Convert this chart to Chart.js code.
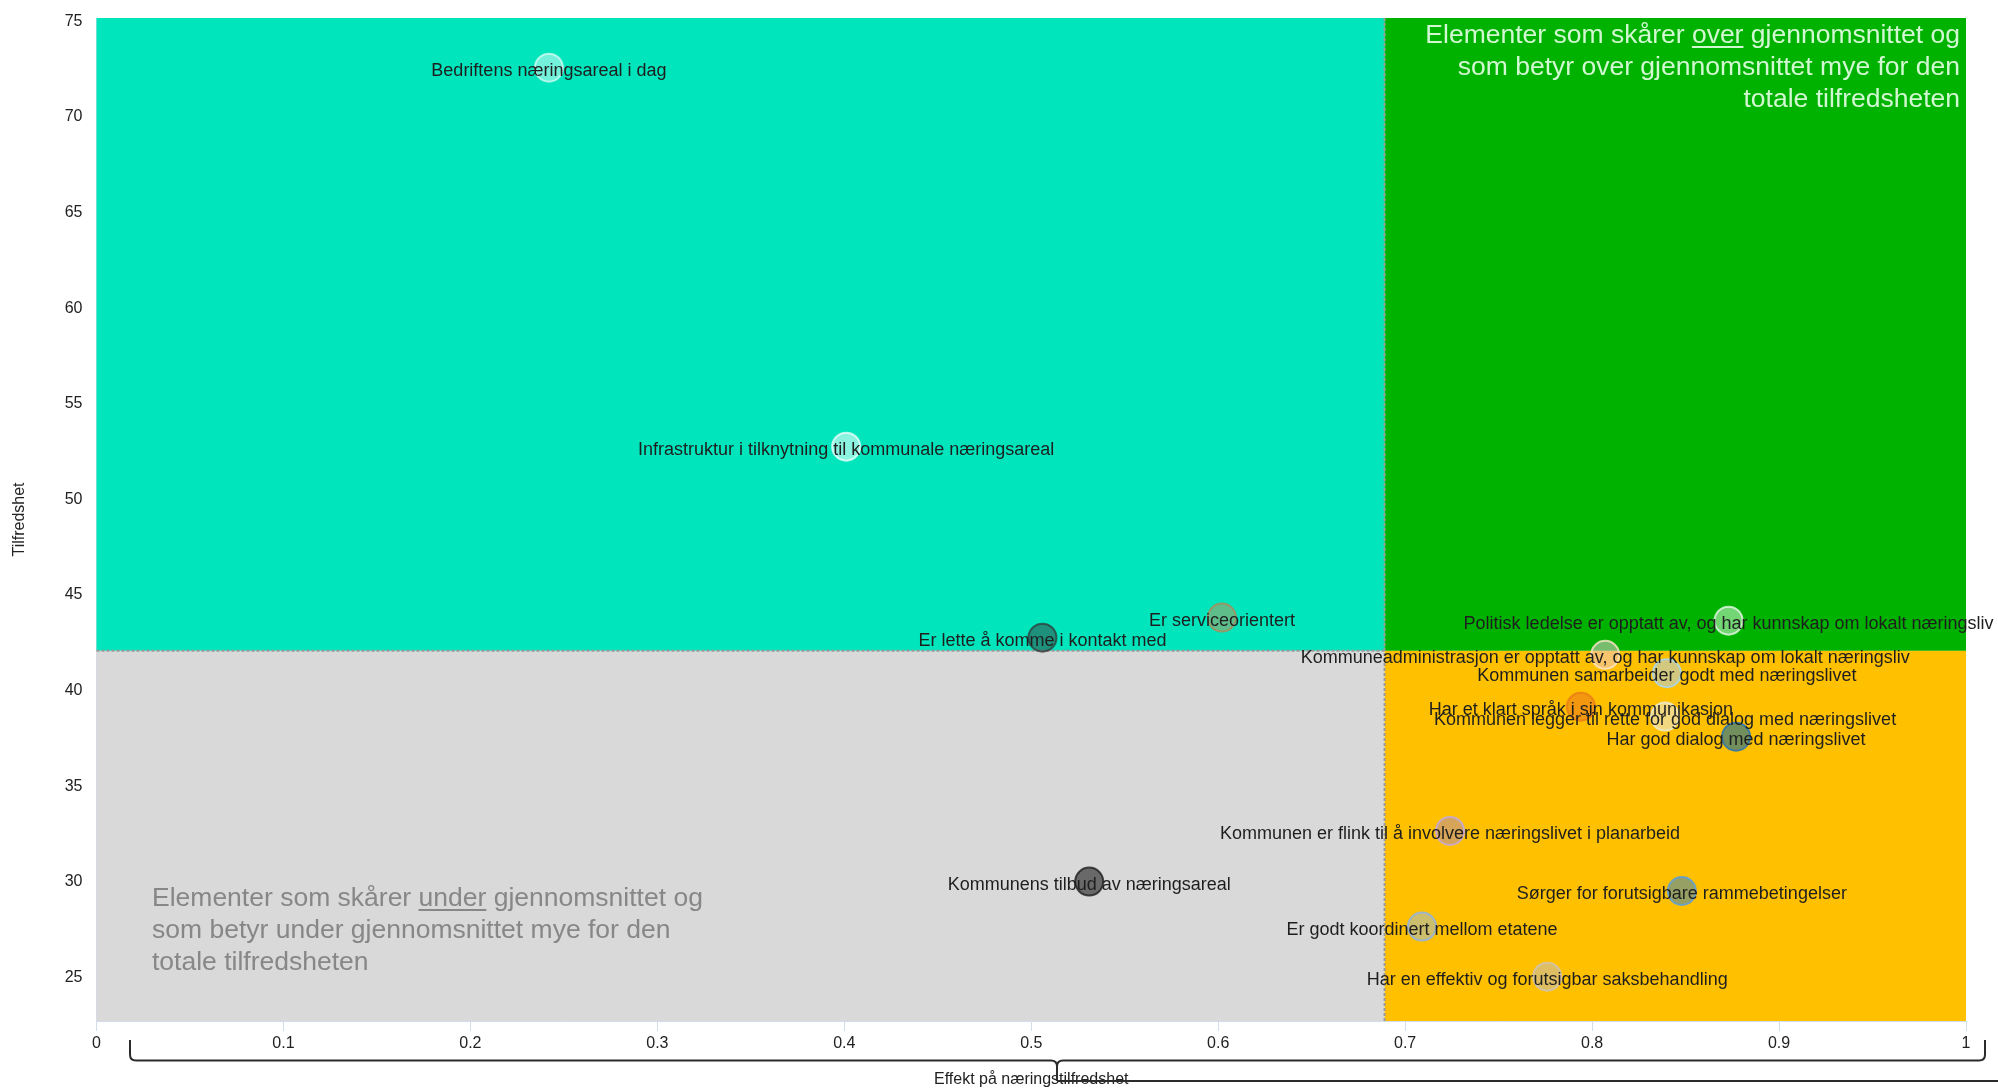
<!DOCTYPE html>
<html lang="no">
<head>
<meta charset="utf-8">
<title>Tilfredshet og effekt</title>
<script src="https://cdn.jsdelivr.net/npm/chart.js@4.4.1/dist/chart.umd.min.js"></script>
<style>
  body { margin: 0; background: #fff; }
  #wrap { width: 1998px; height: 1090px; position: relative; }
</style>
</head>
<body>
<div id="wrap"><canvas id="kvadrant"></canvas></div>
<script>
const elementer = [
    'Bedriftens næringsareal i dag',
    'Infrastruktur i tilknytning til kommunale næringsareal',
    'Er serviceorientert',
    'Er lette å komme i kontakt med',
    'Kommunens tilbud av næringsareal',
    'Politisk ledelse er opptatt av, og har kunnskap om lokalt næringsliv',
    'Kommuneadministrasjon er opptatt av, og har kunnskap om lokalt næringsliv',
    'Kommunen samarbeider godt med næringslivet',
    'Har et klart språk i sin kommunikasjon',
    'Kommunen legger til rette for god dialog med næringslivet',
    'Har god dialog med næringslivet',
    'Kommunen er flink til å involvere næringslivet i planarbeid',
    'Sørger for forutsigbare rammebetingelser',
    'Er godt koordinert mellom etatene',
    'Har en effektiv og forutsigbar saksbehandling'
];
const effekt = [0.242, 0.401, 0.602, 0.506, 0.531, 0.873, 0.807, 0.840, 0.794, 0.839, 0.877, 0.724, 0.848, 0.709, 0.776];
const tilfredshet = [72.58, 52.76, 43.82, 42.77, 30.01, 43.66, 41.87, 40.91, 39.16, 38.64, 37.59, 32.66, 29.52, 27.66, 25.04];

const snittEffekt = 0.689;
const snittTilfredshet = 42.08;
const yTicks = [25, 30, 35, 40, 45, 50, 55, 60, 65, 70, 75];

const fyll = [
    'rgba(255,255,255,0.45)', 'rgba(255,255,255,0.55)', 'rgba(190,150,92,0.5)',
    'rgba(60,60,60,0.5)', 'rgba(30,30,30,0.6)', 'rgba(255,255,255,0.45)',
    'rgba(240,200,220,0.5)', 'rgba(165,208,255,0.5)', 'rgba(230,110,30,0.5)',
    'rgba(230,240,255,0.5)', 'rgba(0,100,170,0.55)', 'rgba(175,138,180,0.5)',
    'rgba(45,128,200,0.5)', 'rgba(155,188,220,0.5)', 'rgba(185,188,220,0.45)'
];
const kant = [
    'rgba(255,255,255,0.6)', 'rgba(255,255,255,0.7)', 'rgba(170,140,90,0.8)',
    'rgba(50,50,50,0.7)', 'rgba(30,30,30,0.8)', 'rgba(255,255,255,0.7)',
    'rgba(255,230,200,0.8)', 'rgba(170,215,230,0.9)', 'rgba(235,130,20,0.9)',
    'rgba(235,235,210,0.8)', 'rgba(50,120,170,0.9)', 'rgba(200,170,210,0.9)',
    'rgba(100,160,210,0.9)', 'rgba(150,180,215,0.9)', 'rgba(210,195,170,0.9)'
];

const FONT = '"Liberation Sans", Arial, sans-serif';

// colored quadrants + dashed average lines
const kvadranter = {
    id: 'kvadranter',
    beforeDatasetsDraw(chart) {
        const { ctx, chartArea: a, scales: { x, y } } = chart;
        const mx = x.getPixelForValue(snittEffekt);
        const my = y.getPixelForValue(snittTilfredshet);
        ctx.save();
        ctx.fillStyle = '#00e5bc';
        ctx.fillRect(a.left, a.top, mx - a.left, my - a.top);
        ctx.fillStyle = '#00b200';
        ctx.fillRect(mx, a.top, a.right - mx, my - a.top);
        ctx.fillStyle = '#d9d9d9';
        ctx.fillRect(a.left, my, mx - a.left, a.bottom - my);
        ctx.fillStyle = '#ffc000';
        ctx.fillRect(mx, my, a.right - mx, a.bottom - my);

        ctx.strokeStyle = '#9a9a9a';
        ctx.lineWidth = 2;
        ctx.setLineDash([3, 2]);
        ctx.beginPath();
        ctx.moveTo(a.left, my);
        ctx.lineTo(mx, my);
        ctx.moveTo(mx, a.top);
        ctx.lineTo(mx, a.bottom);
        ctx.stroke();
        ctx.restore();

        // quadrant descriptions
        ctx.save();
        ctx.font = '26.5px ' + FONT;
        const right = a.right - 6;
        const ovre = ['Elementer som skårer over gjennomsnittet og', 'som betyr over gjennomsnittet mye for den', 'totale tilfredsheten'];
        ctx.fillStyle = 'rgba(232,255,232,0.9)';
        ctx.strokeStyle = 'rgba(232,255,232,0.9)';
        ctx.textAlign = 'left';
        ovre.forEach((linje, i) => {
            const w = ctx.measureText(linje).width;
            const x0 = right - w;
            const by = 43 + i * 31.8;
            ctx.fillText(linje, x0, by);
            if (i === 0) {
                const pre = ctx.measureText('Elementer som skårer ').width;
                const ord = ctx.measureText('over').width;
                ctx.lineWidth = 2;
                ctx.beginPath();
                ctx.moveTo(x0 + pre, by + 4);
                ctx.lineTo(x0 + pre + ord, by + 4);
                ctx.stroke();
            }
        });
        const nedre = ['Elementer som skårer under gjennomsnittet og', 'som betyr under gjennomsnittet mye for den', 'totale tilfredsheten'];
        ctx.fillStyle = '#878787';
        ctx.strokeStyle = '#878787';
        nedre.forEach((linje, i) => {
            const by = 906 + i * 32;
            ctx.fillText(linje, 152, by);
            if (i === 0) {
                const pre = ctx.measureText('Elementer som skårer ').width;
                const ord = ctx.measureText('under').width;
                ctx.lineWidth = 2;
                ctx.beginPath();
                ctx.moveTo(152 + pre, by + 4);
                ctx.lineTo(152 + pre + ord, by + 4);
                ctx.stroke();
            }
        });
        ctx.restore();
    }
};

// point names on top of the bubbles
const punktnavn = {
    id: 'punktnavn',
    afterDatasetsDraw(chart) {
        const { ctx } = chart;
        const meta = chart.getDatasetMeta(0);
        ctx.save();
        ctx.font = '18px ' + FONT;
        ctx.fillStyle = '#1e1e1e';
        ctx.textAlign = 'center';
        ctx.textBaseline = 'middle';
        meta.data.forEach((el, i) => {
            ctx.fillText(elementer[i], el.x, el.y + 3);
        });
        ctx.restore();
    }
};

// brace under the x axis
const klamme = {
    id: 'klamme',
    afterDraw(chart) {
        const { ctx } = chart;
        const l = 130, r = 1985, m = 1057, top = 1040, h = 1060.5, tip = 1081;
        ctx.save();
        ctx.strokeStyle = '#2b2b2b';
        ctx.lineWidth = 2;
        ctx.beginPath();
        ctx.moveTo(l, top);
        ctx.lineTo(l, h - 6);
        ctx.quadraticCurveTo(l, h, l + 6, h);
        ctx.lineTo(m - 6, h);
        ctx.quadraticCurveTo(m, h, m, h + 6);
        ctx.lineTo(m, tip);
        ctx.moveTo(m, h + 6);
        ctx.quadraticCurveTo(m, h, m + 6, h);
        ctx.lineTo(r - 6, h);
        ctx.quadraticCurveTo(r, h, r, h - 6);
        ctx.lineTo(r, top);
        ctx.moveTo(m, tip);
        ctx.lineTo(1998, tip);
        ctx.stroke();
        ctx.restore();
    }
};

const punkter = effekt.map((v, i) => ({ x: v, y: tilfredshet[i] }));

new Chart(document.getElementById('kvadrant'), {
    type: 'scatter',
    data: {
        datasets: [{
            data: punkter,
            pointRadius: 14,
            pointHoverRadius: 14,
            pointBorderWidth: 2,
            pointBackgroundColor: fyll,
            pointBorderColor: kant
        }]
    },
    options: {
        responsive: true,
        maintainAspectRatio: false,
        animation: false,
        layout: { padding: { top: 18, right: 32, bottom: 0, left: 0 } },
        plugins: { legend: { display: false }, tooltip: { enabled: false } },
        scales: {
            x: {
                type: 'linear',
                min: 0,
                max: 1,
                afterFit(scale) { scale.height = 69; },
                grid: { drawOnChartArea: false, drawTicks: true, tickLength: 10, color: '#d3dceb' },
                border: { color: '#d3dceb' },
                ticks: {
                    stepSize: 0.1,
                    padding: 3,
                    color: '#222',
                    font: { family: FONT, size: 16 },
                    callback: v => String(Number(v.toFixed(1)))
                },
                title: {
                    display: true,
                    text: 'Effekt på næringstilfredshet',
                    color: '#222',
                    font: { family: FONT, size: 16 },
                    padding: { top: 0, bottom: 1 }
                }
            },
            y: {
                type: 'linear',
                min: 22.72,
                max: 75.18,
                afterFit(scale) {
                    scale.width = 96.5;
                    scale.paddingTop = 0;
                    scale.paddingBottom = 0;
                },
                afterBuildTicks(scale) { scale.ticks = yTicks.map(v => ({ value: v })); },
                grid: { display: false, drawTicks: false },
                border: { display: true, color: '#d3dceb' },
                ticks: {
                    padding: 14,
                    color: '#222',
                    font: { family: FONT, size: 16 }
                },
                title: {
                    display: true,
                    text: 'Tilfredshet',
                    color: '#222',
                    font: { family: FONT, size: 16 },
                    padding: { top: 10, bottom: 0 }
                }
            }
        }
    },
    plugins: [kvadranter, punktnavn, klamme]
});
</script>
</body>
</html>
